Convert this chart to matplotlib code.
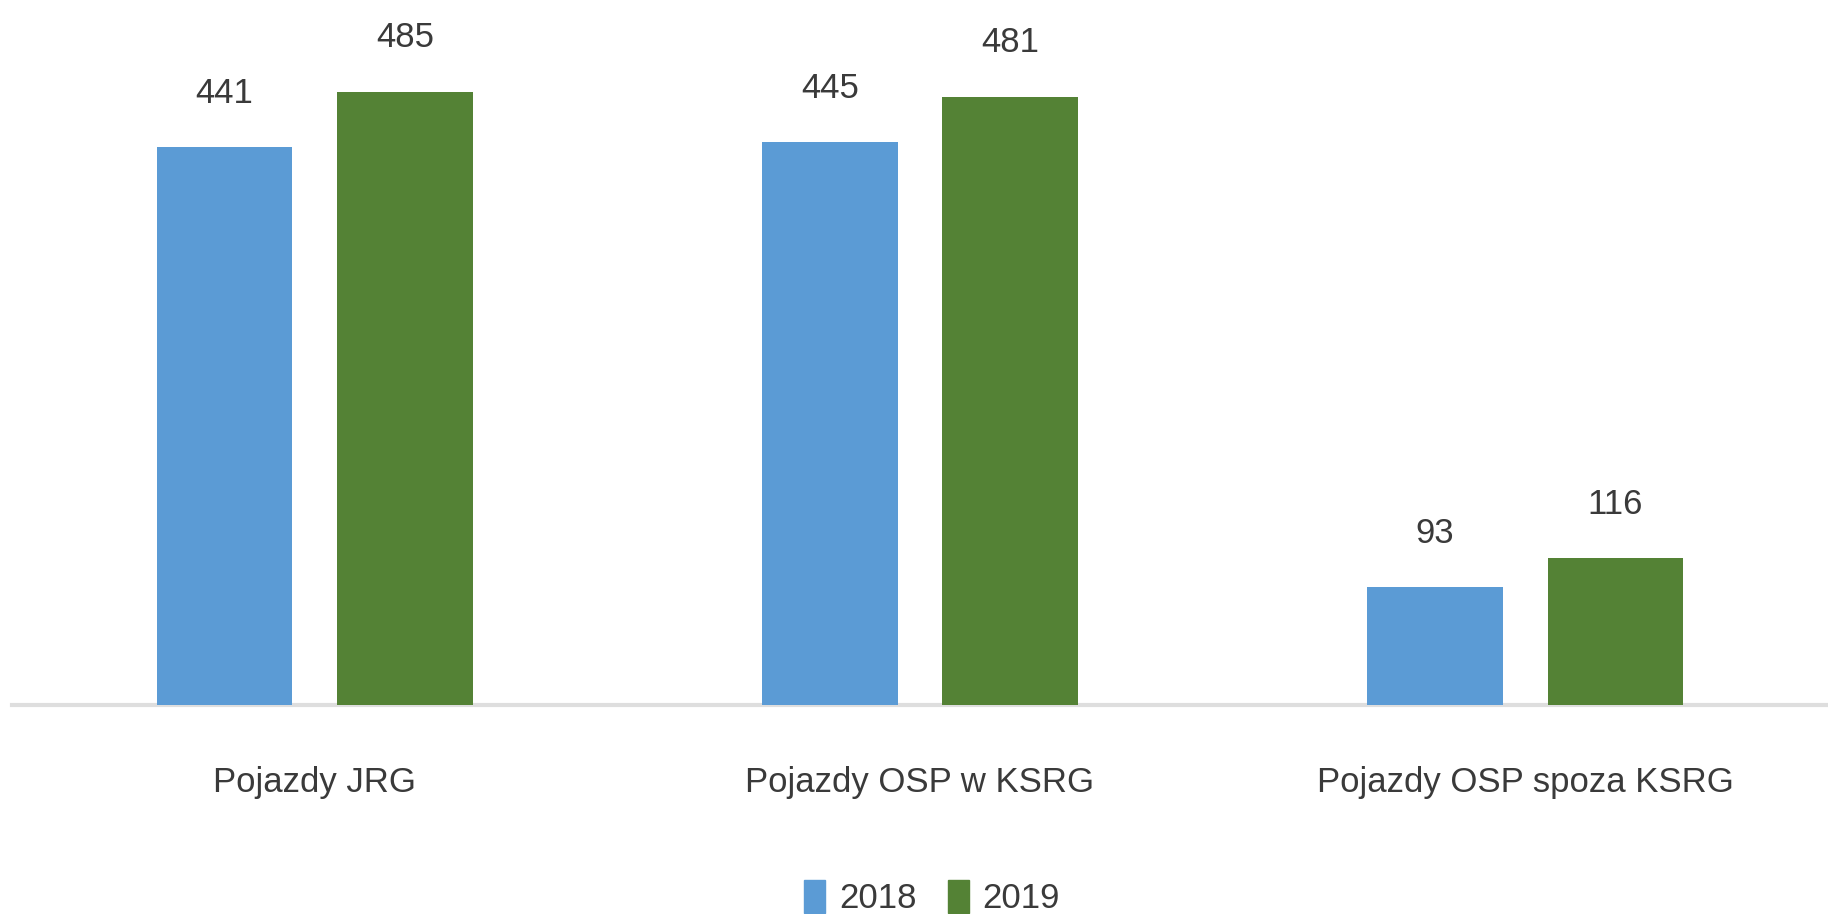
import matplotlib
matplotlib.use('Agg')
import matplotlib.pyplot as plt
import matplotlib.font_manager as fm
from matplotlib.patches import Patch
import numpy as np

# ── 字体 ──────────────────────────────────────────────────────
names = {f.name for f in fm.fontManager.ttflist}
font = 'Liberation Sans Narrow' if 'Liberation Sans Narrow' in names else 'Liberation Sans'
plt.rcParams['font.family'] = [font, 'DejaVu Sans']

# ── 数据 ──────────────────────────────────────────────────────
categories = ['Pojazdy JRG', 'Pojazdy OSP w KSRG', 'Pojazdy OSP spoza KSRG']
years = ['2018', '2019']
vals_2018 = [441, 445, 93]
vals_2019 = [485, 481, 116]
colors = ['#5B9BD5', '#548235']

# ── 绘图 ──────────────────────────────────────────────────────
fig = plt.figure(figsize=(18.28, 9.14), dpi=100)
ax = fig.add_axes([12 / 1828, 209 / 914, 1 - 12 / 1828, 683 / 914])

x = np.arange(len(categories))
w, off = 0.224, 0.149
b1 = ax.bar(x - off, vals_2018, w, color=colors[0], zorder=3)
b2 = ax.bar(x + off, vals_2019, w, color=colors[1], zorder=3)

fs = 25
for bars in (b1, b2):
    for r in bars:
        ax.annotate(f'{int(r.get_height())}', (r.get_x() + r.get_width() / 2, r.get_height()),
                    textcoords='offset points', xytext=(0, 27), ha='center', va='bottom',
                    fontsize=fs, color='#3a3a3a')

ax.set_xlim(-0.5, 2.5)
ax.set_ylim(0, 540)
ax.set_xticks(x)
ax.set_xticklabels(categories, fontsize=fs, color='#3a3a3a')
ax.tick_params(axis='x', length=0, pad=44)
ax.set_yticks([])
for s in ('top', 'right', 'left'):
    ax.spines[s].set_visible(False)
ax.spines['bottom'].set_color('#dedede')
ax.spines['bottom'].set_linewidth(3)
ax.spines['bottom'].set_zorder(2)

handles = [Patch(color=c, label=y) for c, y in zip(colors, years)]
fig.legend(handles=handles, loc='center', bbox_to_anchor=(0.510, 0.018), ncol=2,
           frameon=False, fontsize=fs, handlelength=0.6, handleheight=1.1,
           handletextpad=0.4, columnspacing=0.9, labelcolor='#3a3a3a')

plt.savefig('out.png', dpi=100, facecolor='white')
